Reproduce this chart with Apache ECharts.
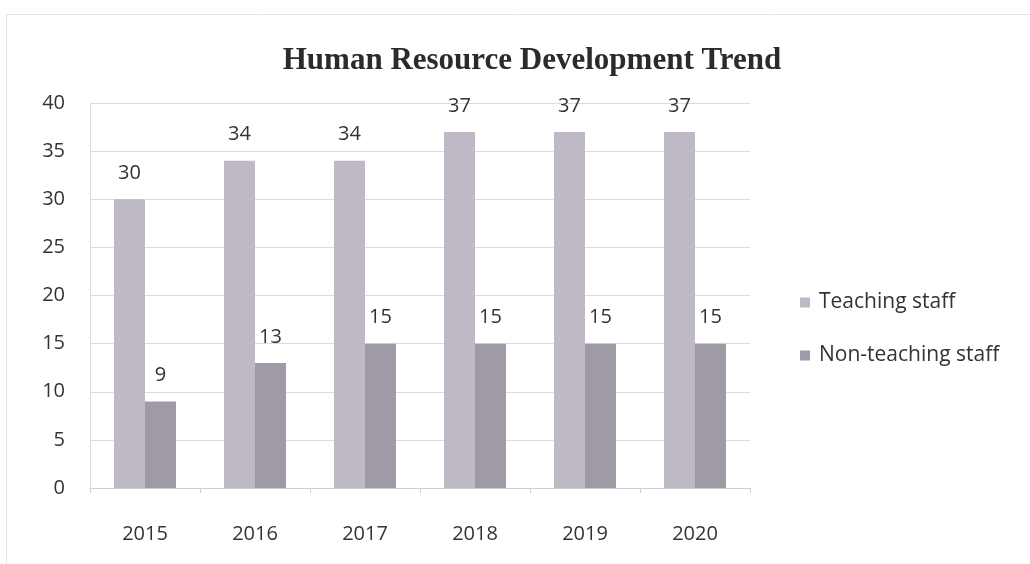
<!DOCTYPE html>
<html>
<head>
<meta charset="utf-8">
<script src="https://cdn.jsdelivr.net/npm/echarts@6/dist/echarts.min.js"></script>
<style>html,body{margin:0;padding:0;background:#fff}#c{width:1030px;height:564px}</style>
</head>
<body>
<div id="c"></div>
<script>
var categories = ['2015', '2016', '2017', '2018', '2019', '2020'];
var teachingStaff = [30, 34, 34, 37, 37, 37];
var nonTeachingStaff = [9, 13, 15, 15, 15, 15];
var seriesNames = ['Teaching staff', 'Non-teaching staff'];

var chart = echarts.init(document.getElementById('c'), null, {renderer: 'canvas'});
var labelFont = '"Open Sans", Lato, sans-serif';
var labelStyle = {show: true, position: 'top', distance: 16, color: '#333', fontFamily: labelFont, fontSize: 20};
chart.setOption({
  animation: false,
  backgroundColor: '#fff',
  graphic: [{type: 'rect', shape: {x: 6.5, y: 14.5, width: 1040, height: 600}, style: {fill: 'none', stroke: '#e4e4e4', lineWidth: 1}, silent: true}],
  title: {
    text: 'Human Resource Development Trend', left: 527, top: 40, textAlign: 'center',
    textStyle: {fontFamily: '"Liberation Serif", "DejaVu Serif", serif', fontWeight: 'bold', fontSize: 31, color: '#2b2b2b'}
  },
  legend: {
    orient: 'vertical', left: 795, top: 287, itemWidth: 10, itemHeight: 10, itemGap: 32,
    icon: 'rect',
    textStyle: {fontFamily: labelFont, fontSize: 21, color: '#333', padding: [0, 0, 0, 4]},
    data: seriesNames
  },
  grid: {left: 90, right: 280, top: 103, bottom: 76, containLabel: false},
  xAxis: {
    type: 'category', data: categories,
    axisLine: {lineStyle: {color: '#cfcfcf'}},
    axisTick: {show: true, length: 5, lineStyle: {color: '#cfcfcf'}},
    axisLabel: {fontFamily: labelFont, fontSize: 20, color: '#333', margin: 36}
  },
  yAxis: {
    type: 'value', min: 0, max: 40, interval: 5,
    axisLine: {show: true, lineStyle: {color: '#dcdcdc'}},
    axisTick: {show: false},
    splitLine: {lineStyle: {color: '#dcdcdc'}},
    axisLabel: {fontFamily: labelFont, fontSize: 20, color: '#333', margin: 25}
  },
  series: [
    {name: seriesNames[0], type: 'bar', data: teachingStaff, barWidth: 31, barGap: '0%',
     itemStyle: {color: '#bfb9c6'}, label: labelStyle},
    {name: seriesNames[1], type: 'bar', data: nonTeachingStaff, barWidth: 31, barGap: '0%',
     itemStyle: {color: '#a099a6'}, label: labelStyle}
  ]
});
</script>
</body>
</html>
